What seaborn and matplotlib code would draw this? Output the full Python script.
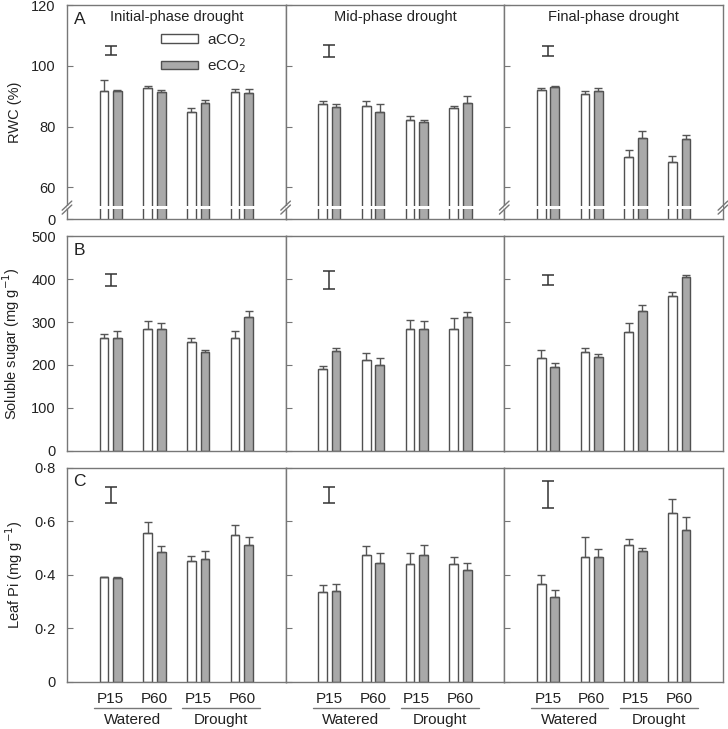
import matplotlib.pyplot as plt
import numpy as np
import pandas as pd
import seaborn as sns
from matplotlib.patches import Patch

phases = ['Initial-phase drought', 'Mid-phase drought', 'Final-phase drought']
groups = ['W-P15', 'W-P60', 'D-P15', 'D-P60']
tick_labels = ['P15', 'P60', 'P15', 'P60']
co2 = ['aCO$_2$', 'eCO$_2$']

# RWC (%), one list per phase
rwc_a = [[91.7, 92.7, 84.8, 91.4], [87.4, 86.8, 82.1, 86.2], [92.1, 90.7, 69.9, 68.2]]
rwc_e = [[91.8, 91.4, 87.9, 91.0], [86.6, 84.9, 81.5, 87.8], [93.2, 91.6, 76.4, 76.0]]
rwc_a_err = [[3.7, 0.6, 1.4, 1.1], [1.0, 1.5, 1.4, 0.6], [0.6, 0.9, 2.3, 2.2]]
rwc_e_err = [[0.2, 0.5, 1.0, 1.4], [1.0, 2.4, 0.7, 2.4], [0.2, 1.1, 2.2, 1.4]]
rwc_lsd = [(103.6, 106.5), (103.0, 107.0), (103.3, 106.5)]

# soluble sugar (mg g-1)
sug_a = [[262, 285, 253, 264], [190, 211, 284, 284], [217, 230, 277, 362]]
sug_e = [[262, 283, 230, 313], [233, 200, 285, 312], [195, 218, 326, 406]]
sug_a_err = [[10, 17, 11, 16], [8, 18, 20, 25], [17, 9, 20, 8]]
sug_e_err = [[18, 15, 6, 13], [7, 16, 18, 12], [10, 7, 15, 5]]
sug_lsd = [(384, 413), (377, 419), (386, 411)]

# leaf Pi (mg g-1)
pi_a = [[0.391, 0.555, 0.450, 0.550], [0.335, 0.474, 0.439, 0.441], [0.365, 0.468, 0.510, 0.631]]
pi_e = [[0.390, 0.485, 0.460, 0.510], [0.340, 0.443, 0.474, 0.420], [0.317, 0.466, 0.488, 0.566]]
pi_a_err = [[0.002, 0.041, 0.021, 0.037], [0.028, 0.032, 0.043, 0.027], [0.034, 0.074, 0.025, 0.051]]
pi_e_err = [[0.002, 0.021, 0.030, 0.030], [0.027, 0.039, 0.038, 0.025], [0.026, 0.029, 0.013, 0.049]]
pi_lsd = [(0.669, 0.730), (0.669, 0.730), (0.649, 0.749)]

rows = [
    ('A', 'RWC (%)', rwc_a, rwc_e, rwc_a_err, rwc_e_err, rwc_lsd,
     (49.5, 120), [49.5, 60, 80, 100, 120], ['0', '60', '80', '100', '120']),
    ('B', 'Soluble sugar (mg g$^{-1}$)', sug_a, sug_e, sug_a_err, sug_e_err, sug_lsd,
     (0, 500), [0, 100, 200, 300, 400, 500], ['0', '100', '200', '300', '400', '500']),
    ('C', 'Leaf Pi (mg g$^{-1}$)', pi_a, pi_e, pi_a_err, pi_e_err, pi_lsd,
     (0, 0.8), [0, 0.2, 0.4, 0.6, 0.8], ['0', '0·2', '0·4', '0·6', '0·8']),
]

grey = '#a9a9a9'
edge = '#505050'
spine_c = '#777777'
text_c = '#222222'

sns.set_style('ticks')
plt.rcParams['font.family'] = ['Liberation Sans', 'DejaVu Sans']

fig, axes = plt.subplots(3, 3, figsize=(7.28, 7.29), dpi=100)
plt.subplots_adjust(left=0.092, right=0.993, top=0.993, bottom=0.0645, wspace=0, hspace=0.08)

for r, (letter, ylab, va, ve, va_err, ve_err, lsd, ylim, yticks, ylabels) in enumerate(rows):
    for c in range(3):
        ax = axes[r, c]
        df = pd.DataFrame({'group': groups * 2,
                           'co2': [co2[0]] * 4 + [co2[1]] * 4,
                           'value': va[c] + ve[c]})
        sns.barplot(data=df, x='group', y='value', hue='co2', order=groups, hue_order=co2,
                    palette={co2[0]: 'white', co2[1]: grey}, edgecolor=edge, linewidth=1,
                    width=0.62, gap=0.355, errorbar=None, legend=False, ax=ax)
        bars = list(ax.containers)[:2]
        for cont, errs in zip(bars, [va_err[c], ve_err[c]]):
            xs = [b.get_x() + b.get_width() / 2 for b in cont]
            ys = [b.get_height() for b in cont]
            ax.errorbar(xs, ys, yerr=[np.zeros(len(errs)), errs], fmt='none', ecolor='#555555',
                        elinewidth=1, capsize=2.8, capthick=1, zorder=3)
        lo, hi = lsd[c]
        ax.errorbar([0], [(lo + hi) / 2], yerr=[(hi - lo) / 2], fmt='none', ecolor='#333333',
                    elinewidth=1.1, capsize=4.5, capthick=1.1, zorder=3)

        ax.set_xlim(-1, 4)
        ax.set_ylim(*ylim)
        ax.set_yticks(yticks)
        ax.set_xlabel('')
        ax.set_ylabel('')
        for s in ax.spines.values():
            s.set_color(spine_c)
            s.set_linewidth(1)
        ax.tick_params(axis='y', direction='in', length=4, color=spine_c, labelsize=10.5,
                       labelcolor=text_c, pad=8)
        ax.tick_params(axis='x', length=0, labelsize=11, labelcolor=text_c, pad=7)

        if c == 0:
            ax.set_yticklabels(ylabels)
            ax.set_ylabel(ylab, fontsize=10.5, color=text_c, labelpad=7)
            ax.text(0.03, 0.97, letter, transform=ax.transAxes, fontsize=12.5, va='top',
                    color=text_c)
        else:
            ax.tick_params(labelleft=False)

        if r == 0:
            ax.text(0.5, 0.945, phases[c], transform=ax.transAxes, ha='center', va='center',
                    fontsize=10.5, color=text_c)
            # axis break
            ax.axhspan(52.9, 53.8, color='white', zorder=4, lw=0)
            tr = ax.get_yaxis_transform()
            xs_break = [0, 1] if c == 2 else [0]
            for xb in xs_break:
                for yb in (52.7, 54.0):
                    ax.plot([xb - 0.022, xb + 0.022], [yb - 1.5, yb + 1.5], transform=tr,
                            color=spine_c, lw=1, clip_on=False, zorder=5)

        if r == 2:
            ax.set_xticks(range(4))
            ax.set_xticklabels(tick_labels)
            tr = ax.get_xaxis_transform()
            for (x0, x1), lab in zip([(-0.38, 1.37), (1.64, 3.42)], ['Watered', 'Drought']):
                ax.plot([x0, x1], [-0.122, -0.122], transform=tr, color=spine_c, lw=1,
                        clip_on=False)
                ax.text((x0 + x1) / 2, -0.178, lab, transform=tr, ha='center', va='center',
                        fontsize=11, color=text_c)
        else:
            ax.tick_params(labelbottom=False)

handles = [Patch(facecolor='white', edgecolor=edge), Patch(facecolor=grey, edgecolor=edge)]
axes[0, 0].legend(handles, co2, loc='upper left', bbox_to_anchor=(0.43, 0.875), frameon=False,
                  fontsize=11, handlelength=2.4, handleheight=0.45, handletextpad=0.6,
                  labelspacing=0.65, borderpad=0, borderaxespad=0)

plt.savefig('out.png', dpi=100)
